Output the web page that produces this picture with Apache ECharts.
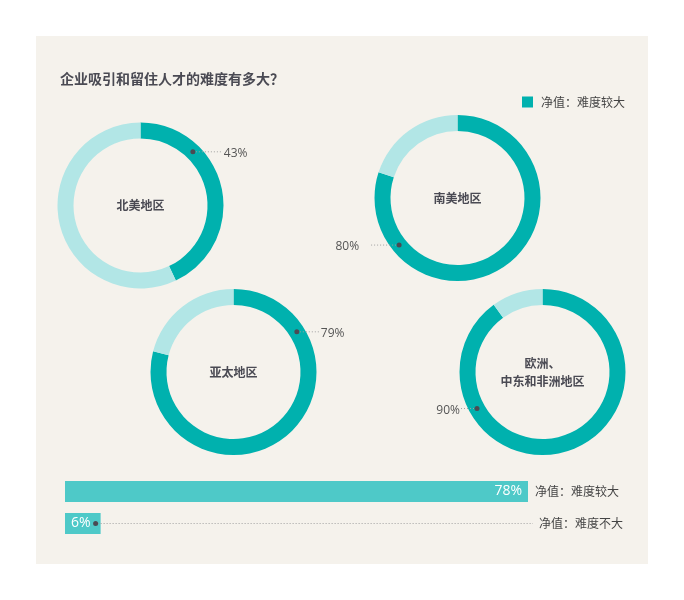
<!DOCTYPE html>
<html>
<head>
<meta charset="utf-8">
<script src="https://cdn.jsdelivr.net/npm/echarts@6/dist/echarts.min.js"></script>
<style>
html, body { margin: 0; padding: 0; background: #ffffff; }
#chart { position: absolute; left: 36px; top: 36px; width: 612px; height: 528px; background: #f5f2ec; }
</style>
</head>
<body>
<div id="chart"></div>
<script>
// 数据
var regions = ['北美地区', '南美地区', '亚太地区', '欧洲、\n中东和非洲地区'];
var hardValues = [43, 80, 79, 90];
var barNames = ['净值：难度较大', '净值：难度不大'];
var barValues = [78, 6];
var legendName = '净值：难度较大';
var titleText = '企业吸引和留住人才的难度有多大？';

// 布局
var centers = [[104.5, 169.5], [421.5, 162], [197.5, 336], [506.5, 336]];
var tagAngle = [12.3, 64.2, 16, 66.9];          // 百分比标签在圆环上的位置（占一圈的百分比）
var tagLine = [[28, 3], [-30, 10], [23, 1], [-16, 1]]; // 虚线长度, 文字间距

var teal = '#00b1ae';
var light = '#b2e6e6';
var barColor = '#4ec9c8';
var dark = '#4a4a53';
var cjk = '"Noto Sans CJK SC", "Noto Sans", sans-serif';

var chart = echarts.init(document.getElementById('chart'));

var polar = [], angleAxis = [], radiusAxis = [], series = [];

regions.forEach(function (name, k) {
	var v = hardValues[k];
	polar.push({ center: centers[k], radius: 83 });
	angleAxis.push({ polarIndex: k, type: 'value', min: 0, max: 100, startAngle: 90, show: false });
	radiusAxis.push({ polarIndex: k, type: 'value', min: 0, max: 83, show: false });

	series.push({
		type: 'pie',
		center: centers[k],
		radius: [67, 83],
		startAngle: 90,
		clockwise: true,
		silent: true,
		animation: false,
		z: 2,
		labelLine: { show: false },
		label: { show: false },
		data: [
			{
				value: v, name: name,
				itemStyle: { color: teal },
				label: {
					show: true, position: 'center', formatter: '{b}',
					fontSize: 12, fontWeight: 'bold', color: dark, lineHeight: 18, fontFamily: cjk
				}
			},
			{ value: 100 - v, name: name + '-', itemStyle: { color: light } }
		]
	});

	// 圆环上的百分比标注
	series.push({
		type: 'custom',
		coordinateSystem: 'polar',
		polarIndex: k,
		silent: true,
		animation: false,
		z: 10,
		data: [[75, tagAngle[k], v]],
		renderItem: function (params, api) {
			var p = api.coord([api.value(0), api.value(1)]);
			var len = tagLine[k][0], gap = tagLine[k][1];
			var dir = len > 0 ? 1 : -1;
			var x2 = p[0] + len;
			return {
				type: 'group',
				children: [
					{ type: 'line', shape: { x1: p[0] + dir * 3, y1: p[1], x2: x2, y2: p[1] },
						style: { stroke: '#a0a0a0', lineWidth: 1, lineDash: [1, 2] } },
					{ type: 'circle', shape: { cx: p[0], cy: p[1], r: 2.5 }, style: { fill: dark } },
					{ type: 'text', style: {
						text: api.value(2) + '%', x: x2 + dir * gap, y: p[1] + 2,
						align: dir > 0 ? 'left' : 'right', verticalAlign: 'middle',
						fill: '#555555', fontSize: 12, fontFamily: '"Open Sans", sans-serif'
					} }
				]
			};
		}
	});
});

// 底部条形
series.push({
	type: 'bar',
	name: legendName,
	xAxisIndex: 0,
	yAxisIndex: 0,
	barWidth: 21,
	silent: true,
	animation: false,
	z: 2,
	itemStyle: { color: barColor },
	data: barValues.map(function (v, i) {
		return {
			value: v,
			label: {
				show: true, position: i === 0 ? 'insideRight' : 'insideLeft', distance: 6,
				formatter: v + '%', color: '#ffffff', fontSize: 14, fontFamily: '"Open Sans", sans-serif'
			}
		};
	})
});

var maxBar = Math.max.apply(null, barValues);
series.push({
	type: 'custom',
	coordinateSystem: 'cartesian2d',
	xAxisIndex: 0,
	yAxisIndex: 0,
	silent: true,
	animation: false,
	z: 10,
	data: barValues.map(function (v, i) { return [v, i]; }),
	renderItem: function (params, api) {
		var end = api.coord([api.value(0), api.value(1)]);
		var ref = api.coord([maxBar, api.value(1)]);
		var name = barNames[params.dataIndex];
		var txt = { fill: '#444444', fontSize: 12, fontFamily: cjk, verticalAlign: 'middle', align: 'left' };
		if (api.value(0) >= maxBar) {
			txt.text = name; txt.x = end[0] + 7; txt.y = end[1];
			return { type: 'text', style: txt };
		}
		txt.text = name; txt.x = ref[0] + 11; txt.y = end[1];
		return {
			type: 'group',
			children: [
				{ type: 'line', shape: { x1: end[0] - 3, y1: end[1], x2: ref[0] + 5, y2: end[1] },
					style: { stroke: '#a0a0a0', lineWidth: 1, lineDash: [1, 2] } },
				{ type: 'circle', shape: { cx: end[0] - 5, cy: end[1], r: 2.5 }, style: { fill: dark } },
				{ type: 'text', style: txt }
			]
		};
	}
});

var option = {
	backgroundColor: '#f5f2ec',
	animation: false,
	title: {
		text: titleText, left: 24, top: 36, padding: 0,
		textStyle: { fontSize: 14, fontWeight: 'bold', color: dark, fontFamily: cjk }
	},
	legend: {
		right: 23, top: 60, padding: 0,
		itemWidth: 11, itemHeight: 11,
		selectedMode: false,
		data: [{ name: legendName, icon: 'rect', itemStyle: { color: teal } }],
		textStyle: { fontSize: 12, color: '#444444', fontFamily: cjk, padding: [0, 0, 0, 3] }
	},
	polar: polar,
	angleAxis: angleAxis,
	radiusAxis: radiusAxis,
	grid: { left: 29, width: 463, top: 439.5, height: 64 },
	xAxis: { type: 'value', min: 0, max: 'dataMax', show: false },
	yAxis: { type: 'category', data: barNames, inverse: true, show: false },
	series: series
};

chart.setOption(option);
</script>
</body>
</html>
